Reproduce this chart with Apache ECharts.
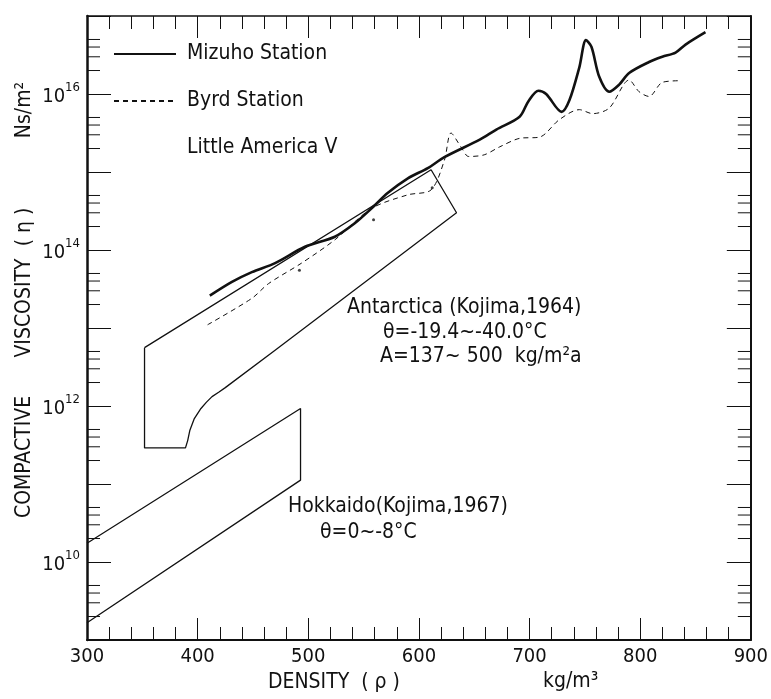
<!DOCTYPE html>
<html>
<head>
<meta charset="utf-8">
<script src="https://cdn.jsdelivr.net/npm/echarts@6/dist/echarts.min.js"></script>
<style>
  html, body { margin: 0; padding: 0; background: #fff; }
  #chart { width: 771px; height: 699px; }
</style>
</head>
<body>
<div id="chart"></div>
<script>
// density in kg/m3, viscosity in Ns/m2
const mizuhoDensity = [411, 431, 449, 470, 497, 524, 542, 557, 572, 590, 608, 623, 655, 670, 691, 699, 708, 715, 729, 736, 745, 751, 756, 763, 772, 781, 790, 808, 820, 832, 841, 859]
const mizuhoViscosity = [2.6e13, 3.9e13, 5.2e13, 6.8e13, 1.1e14, 1.48e14, 2.2e14, 3.4e14, 5.4e14, 8.3e14, 1.12e15, 1.55e15, 2.6e15, 3.5e15, 5.1e15, 8.1e15, 1.1e16, 1.0e16, 5.9e15, 8.3e15, 2.2e16, 4.9e16, 4.0e16, 1.66e16, 1.07e16, 1.32e16, 1.86e16, 2.57e16, 3.0e16, 3.4e16, 4.3e16, 6.2e16]

const byrdDensity = [409, 449, 464, 494, 524, 557, 590, 611, 623, 629, 638, 645, 659, 673, 691, 709, 727, 745, 757, 772, 790, 799, 808, 820, 836]
const byrdViscosity = [1.1e13, 2.4e13, 3.7e13, 6.8e13, 1.35e14, 3.4e14, 5.1e14, 5.9e14, 1.41e15, 3.16e15, 2.1e15, 1.58e15, 1.66e15, 2.1e15, 2.7e15, 2.8e15, 4.7e15, 6.3e15, 5.6e15, 6.6e15, 1.51e16, 1.07e16, 9.3e15, 1.41e16, 1.48e16]

const littleAmericaDensity = [492, 559, 612]
const littleAmericaViscosity = [5.5e13, 2.45e14, 6.3e14]

// Kojima (1964) Antarctica range, outline
const antarcticaDensity = [352, 352, 389, 391, 393, 397, 403, 408, 413, 419, 425, 470, 634, 611, 352]
const antarcticaViscosity = [5.6e12, 2.9e11, 2.9e11, 3.6e11, 4.9e11, 6.9e11, 9.3e11, 1.12e12, 1.32e12, 1.5e12, 1.72e12, 5.2e12, 3.0e14, 1.07e15, 5.6e12]

// Kojima (1967) Hokkaido range, outline (open at the left axis)
const hokkaidoDensity = [300, 493, 493, 300]
const hokkaidoViscosity = [1.74e10, 9.3e11, 1.12e11, 1.66e9]

const labelledExponents = [10, 12, 14, 16]
const minorTickValues = []
for (let e = 9; e < 17; e++) {
  [2, 3, 4, 5].forEach(m => minorTickValues.push(m * Math.pow(10, e)))
}

const FONT = '"DejaVu Sans Condensed", "DejaVu Sans", sans-serif'
const INK = '#111'
const TXT = '21px ' + FONT

const pairs = (xs, ys) => xs.map((x, i) => [x, ys[i]])

const xAxisBase = {
  type: 'value',
  min: 300,
  max: 900,
  interval: 100,
  axisLine: { lineStyle: { color: INK, width: 2 } },
  axisTick: { inside: true, length: 22, lineStyle: { color: INK, width: 1 } },
  minorTick: { show: true, splitNumber: 5, length: 13, lineStyle: { color: INK, width: 1 } },
  splitLine: { show: false }
}
const yAxisBase = {
  type: 'log',
  logBase: 10,
  min: 1e9,
  max: 1e17,
  axisLine: { lineStyle: { color: INK, width: 2 } },
  axisTick: { inside: true, length: 24, lineStyle: { color: INK, width: 1 } },
  splitLine: { show: false }
}

const chart = echarts.init(document.getElementById('chart'))
chart.setOption({
  backgroundColor: '#fff',
  animation: false,
  textStyle: { fontFamily: FONT, color: INK },
  grid: { left: 87, right: 15, top: 16, bottom: 59 },
  legend: {
    data: ['Mizuho Station', 'Byrd Station', 'Little America V'],
    orient: 'vertical',
    left: 113,
    top: 42,
    padding: 0,
    itemWidth: 62,
    itemHeight: 14,
    itemGap: 23,
    selectedMode: false,
    itemStyle: { opacity: 0 },
    textStyle: { fontSize: 21, fontFamily: FONT, color: INK, lineHeight: 24, padding: [0, 0, 0, 6] }
  },
  xAxis: [
    Object.assign({}, xAxisBase, {
      position: 'bottom',
      axisLabel: { fontSize: 20, fontFamily: FONT, color: INK, margin: 7 }
    }),
    Object.assign({}, xAxisBase, { position: 'top', axisLine: { lineStyle: { color: INK, width: 1.5 } }, axisLabel: { show: false } })
  ],
  yAxis: [
    Object.assign({}, yAxisBase, {
      position: 'left',
      axisLine: { lineStyle: { color: INK, width: 2.5 } },
      axisLabel: {
        margin: 7,
        formatter: v => {
          const e = Math.round(Math.log10(v))
          return labelledExponents.includes(e) ? '{b|10}{s|' + e + '}' : ''
        },
        rich: {
          b: { fontSize: 20, fontFamily: FONT, color: INK, lineHeight: 26, verticalAlign: 'bottom' },
          s: { fontSize: 13, fontFamily: FONT, color: INK, lineHeight: 26, verticalAlign: 'top' }
        }
      }
    }),
    Object.assign({}, yAxisBase, { position: 'right', axisLabel: { show: false } })
  ],
  series: [
    {
      name: 'Mizuho Station',
      type: 'line',
      data: pairs(mizuhoDensity, mizuhoViscosity),
      symbol: 'none',
      smooth: 0.3,
      lineStyle: { color: INK, width: 2.6 },
      itemStyle: { color: INK },
      z: 4
    },
    {
      name: 'Byrd Station',
      type: 'line',
      data: pairs(byrdDensity, byrdViscosity),
      symbol: 'none',
      smooth: 0.3,
      lineStyle: { color: INK, width: 1, type: [5, 4] },
      itemStyle: { color: INK },
      z: 3
    },
    {
      name: 'Little America V',
      type: 'scatter',
      data: pairs(littleAmericaDensity, littleAmericaViscosity),
      symbolSize: 3,
      itemStyle: { color: INK }
    },
    {
      name: 'Antarctica',
      type: 'line',
      data: pairs(antarcticaDensity, antarcticaViscosity),
      symbol: 'none',
      lineStyle: { color: INK, width: 1.3 }
    },
    {
      name: 'Hokkaido',
      type: 'line',
      data: pairs(hokkaidoDensity, hokkaidoViscosity),
      symbol: 'none',
      lineStyle: { color: INK, width: 1.3 }
    },
    {
      // short log-decade ticks (2,3,4,5) on both vertical axes
      name: 'minor',
      type: 'custom',
      silent: true,
      data: minorTickValues.map(v => [300, v]),
      renderItem: (params, api) => {
        const l = api.coord([300, api.value(1)])
        const r = api.coord([900, api.value(1)])
        const st = { stroke: INK, lineWidth: 1 }
        return {
          type: 'group',
          children: [
            { type: 'line', shape: { x1: l[0], y1: l[1], x2: l[0] + 13, y2: l[1] }, style: st },
            { type: 'line', shape: { x1: r[0] - 13, y1: r[1], x2: r[0], y2: r[1] }, style: st }
          ]
        }
      }
    }
  ],
  graphic: [
    { type: 'text', left: 347, top: 297, style: { text: 'Antarctica (Kojima,1964)', font: TXT, fill: INK } },
    { type: 'text', left: 383, top: 322, style: { text: 'θ=-19.4~-40.0°C', font: TXT, fill: INK } },
    { type: 'text', left: 380, top: 346, style: { text: 'A=137~ 500  kg/m²a', font: TXT, fill: INK } },
    { type: 'text', left: 288, top: 496, style: { text: 'Hokkaido(Kojima,1967)', font: TXT, fill: INK } },
    { type: 'text', left: 320, top: 522, style: { text: 'θ=0~-8°C', font: TXT, fill: INK } },
    { type: 'text', left: 268, top: 672, style: { text: 'DENSITY  ( ρ )', font: TXT, fill: INK } },
    { type: 'text', left: 543, top: 671, style: { text: 'kg/m³', font: TXT, fill: INK } },
    { type: 'text', x: 25, y: 457, rotation: Math.PI / 2, style: { text: 'COMPACTIVE', font: TXT, fill: INK, align: 'center', verticalAlign: 'middle' } },
    { type: 'text', x: 25, y: 308, rotation: Math.PI / 2, style: { text: 'VISCOSITY', font: TXT, fill: INK, align: 'center', verticalAlign: 'middle' } },
    { type: 'text', x: 25, y: 227, rotation: Math.PI / 2, style: { text: '( η )', font: TXT, fill: INK, align: 'center', verticalAlign: 'middle' } },
    { type: 'text', x: 25, y: 110, rotation: Math.PI / 2, style: { text: 'Ns/m²', font: TXT, fill: INK, align: 'center', verticalAlign: 'middle' } }
  ]
})
</script>
</body>
</html>
